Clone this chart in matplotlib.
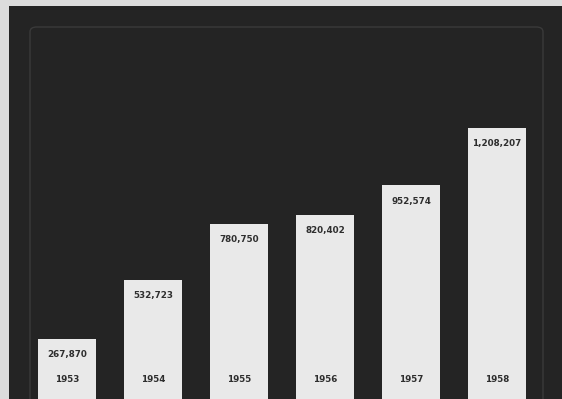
import matplotlib
matplotlib.use('Agg')
import matplotlib.pyplot as plt
from matplotlib.patches import FancyBboxPatch

years = ['1953', '1954', '1955', '1956', '1957', '1958']
values = [267870, 532723, 780750, 820402, 952574, 1208207]
labels = ['267,870', '532,723', '780,750', '820,402', '952,574', '1,208,207']

W, H = 562, 399
fig = plt.figure(figsize=(W / 100, H / 100), dpi=100, facecolor='#dcdcdc')

# dark board
ax = fig.add_axes([9 / W, 0, (W - 9) / W, (H - 6) / H])
ax.set_facecolor('#242424')
for s in ax.spines.values():
    s.set_visible(False)
ax.set_xticks([])
ax.set_yticks([])

# inner rounded frame line
frame = FancyBboxPatch((30 / W, -0.05), (543 - 30) / W, 1 - 27 / H + 0.05,
                       boxstyle='round,pad=0,rounding_size=0.012',
                       transform=fig.transFigure, facecolor='none',
                       edgecolor='#3a3a3a', linewidth=1.0, zorder=1)
ax.add_artist(frame)

units_per_px = 4458
x = list(range(len(years)))
ax.bar(x, values, width=0.67, color='#e9e9e9', edgecolor='none', zorder=2)

fam = ['Liberation Sans Narrow', 'DejaVu Sans']
for i in x:
    ax.text(i, values[i] - 16 * units_per_px, labels[i], ha='center', va='center',
            fontsize=6.3, fontweight='bold', color='#2e2e2e', zorder=3, family=fam)
    ax.text(i, 19 * units_per_px, years[i], ha='center', va='center',
            fontsize=6.3, fontweight='bold', color='#2e2e2e', zorder=3, family=fam)

ax.set_xlim(-(67 - 9) / 86, (562 - 67) / 86)
ax.set_ylim(0, 393 * units_per_px)

fig.savefig('out.png', dpi=100, facecolor=fig.get_facecolor())
